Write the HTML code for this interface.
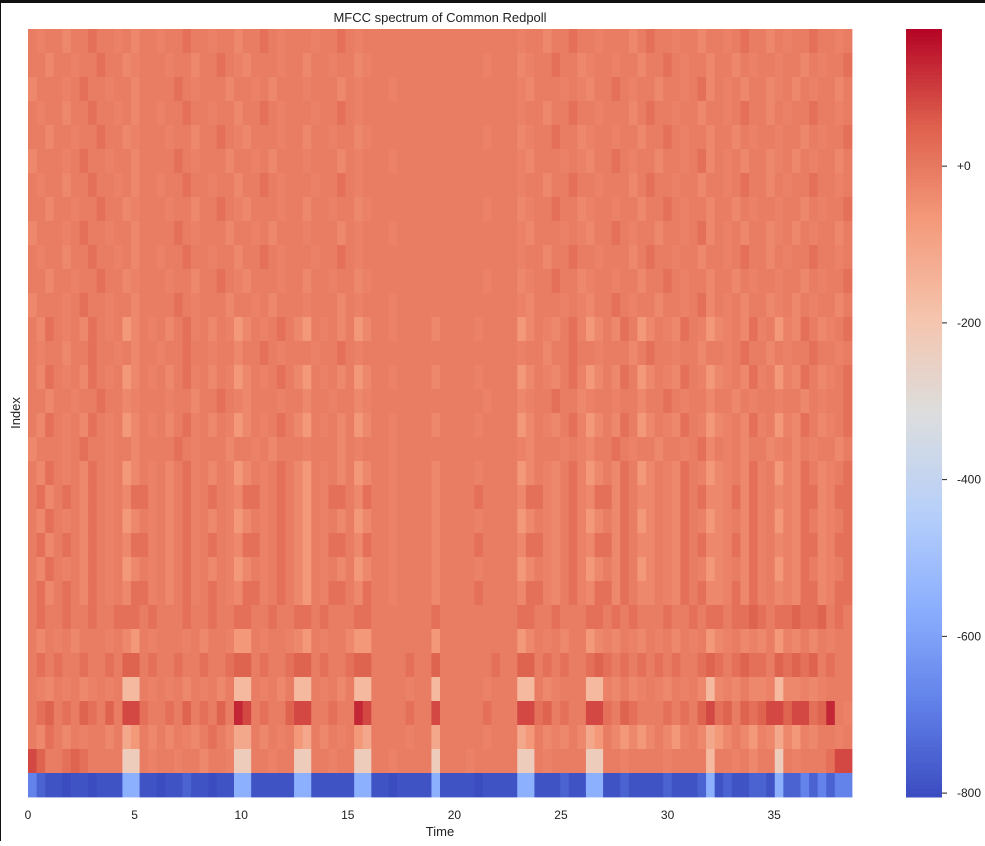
<!DOCTYPE html>
<html><head><meta charset="utf-8"><style>
html,body{margin:0;padding:0;background:#fff;}
body{width:985px;height:841px;overflow:hidden;position:relative;font-family:"Liberation Sans",sans-serif;}
svg text{font-family:"Liberation Sans",sans-serif;fill:#222;}
</style></head><body>
<svg id="chart" width="985" height="841" viewBox="0 0 985 841" xmlns="http://www.w3.org/2000/svg">
<rect x="0" y="0" width="985" height="3" fill="#111"/>
<rect x="0" y="0" width="1" height="841" fill="#111"/>
<text x="440" y="22" text-anchor="middle" font-size="13">MFCC spectrum of Common Redpoll</text>
<text x="20" y="413" text-anchor="middle" font-size="13" transform="rotate(-90 20 413)">Index</text>
<text x="440" y="836" text-anchor="middle" font-size="13">Time</text>
<g id="heat"></g>
<g id="xticks"></g>
<g id="cbar"></g>
</svg>
<script>
// ---- data ----
const levelKeys = ["A","B","C","D","E","f","g","h","i","j","k","m","n","o","p","q"];
const levelValues = [-805,-790,-755,-680,-560,-230,-160,-110,-65,-32,-18,-8,18,45,85,130];
const duration = 38.65;
const xTickValues = [0,5,10,15,20,25,30,35];
const cbarTickValues = [0,-200,-400,-600,-800];
const cbarTickLabels = ["+0","-200","-400","-600","-800"];
const vmin = -805, vmax = 175;
const TA = ["mkmmjmmn","mmkmjmmk","mmnmmkmm","jmmnmkmm","mkmmnmkm","mmmmmmmm","mmmmmmmm","mkmmjmmn","mmkmmmjm","nmmkmmjm","mkmnmmjm","kmmnmmkm"];
const TB = ["mmjmmkmm","nmmjkmmm","kmmjmmnm","kjmmmkmm","jmmkmmjk","mmmmmmmm","mmmmmkmm","mjkmmnmm","jkmmkmmj","mmnmkmmj","mmjmkmmk","mmjmkmmn"];
const TC = ["jmmmkmnm","mkmmjmmm","mnmkmmmj","mmkmjmmm","kmmmjmkm","mmkmmmmm","mmmmmmmm","mkjmmmkm","kjmmnmkm","mjmmkmnj","mkmjmmjk","mjmkmmjm"];
const TD = ["mjnmkmjn","mkmijmkm","jmnkmjmk","ijmkmnmj","imkmjmij","mmkmmmmj","mmmmkmmm","mijmkjmn","kijmjnmi","jmkjnmki","jkmjnkmi","kjnmjkmn"];
const TE = ["mnjmnmjn","mkmjnnkm","jmnkmnmk","jnnkmnmj","imknnmjn","mmkmmmmj","mmmmnmmm","mjnnkjmn","kjnnjnmj","jmkjnmnj","jknjnkmj","kjnnjknn"];
const R24 = ["mnmmnmmn","mmnnnmnm","mmnmmnmm","nnmmnmmn","nmnmmmnn","mmmmmmmn","mmmmmmmm","mnnmmnmm","mnnmnmnm","mmnmmnmn","nmnnonmn","nonnomnm"];
const R25 = ["mjmkmjmm","mkmjimkm","mmkmjmmk","iimkmmkj","imkmmjii","mmmmmmmi","mmmmmmmm","mijmkmjm","mijkjmkj","mkmjmkmi","jkmjkjmi","kjmjmkmm"];
const R26 = ["mnmnmmnm","mnmoomnm","mnmmnmmn","oomnmmno","omnmmnoo","mmmmnmmo","mmmmmmnm","moomnmnm","mnonmnmn","mnmnmmno","nmnonnmo","nonomnmm"];
const R27 = ["mkjmkmjk","mkmggmkm","kmjmkmjm","ggmkmjmg","gmkmjmgg","mmmmkmmg","mmmmmkmm","mggmjkmm","mggkjmjk","mkjmkmjg","jkjmjjkg","jjkjkmmm"];
const R28 = ["mnomnmon","momppnmm","nmomnmom","qpmnmmop","pmmnmmqp","mmmmnmmp","mmmmmnmm","mppnomnm","mppnmonm","mmnmnmop","nomonopp","oppnoqmk"];
const R29 = ["mjnmjmkm","mjmhimjm","jmkjmnmj","hhmjmkmi","hmjmkmih","mmmmkmmh","mmmmmkmm","mhimjkjm","jhimjiji","jmjikmjh","ijmjikjh","jikjmmkm"];
const R30 = ["pommnonm","mmmffmkm","mkmmjmmk","ffmmkmmf","fmmkmmff","mmkmmmmf","mmmkmmmm","mffmkmmm","mffmmkmm","mmkmmmmg","mmkmjmmf","mkmmmnpp"];
const R31 = ["DCBBABBA","BBBEEBBA","BBCBBABB","EEBBBBBE","EBBBBBEE","BBABBBBE","BBBBABBB","BEEBBBCB","BEEBBCBB","BBCBBBCE","BCBBCCBE","CCDCDCDD"];
const rows = [TA,TB,TC,TA,TB,TC,TA,TB,TC,TA,TB,TC,TD,TA,TD,TB,TD,TC,TD,TE,TD,TE,TD,TE,R24,R25,R26,R27,R28,R29,R30,R31];

// ---- layout ----
const PX0=28, PX1=852, PY0=29, PY1=797;
const CBX=906, CBW=36;
const xScale = t => PX0 + t/duration*(PX1-PX0);
const cbScale = v => PY0 + (vmax - v)/(vmax - vmin)*(PY1-PY0);
const stops=[[0,59,76,192],[0.125,98,130,234],[0.25,141,176,254],[0.375,184,208,249],[0.5,221,221,221],[0.625,245,196,173],[0.75,244,154,123],[0.875,222,96,77],[1,180,4,38]];
function cmap(v){
  let t=Math.max(0,Math.min(1,(v-vmin)/(vmax-vmin)));
  for(let i=1;i<stops.length;i++){
    if(t<=stops[i][0]){const a=stops[i-1],b=stops[i];const f=(t-a[0])/(b[0]-a[0]);
      return `rgb(${Math.round(a[1]+f*(b[1]-a[1]))},${Math.round(a[2]+f*(b[2]-a[2]))},${Math.round(a[3]+f*(b[3]-a[3]))})`;}
  }
  return "rgb(180,4,38)";
}
const NS="http://www.w3.org/2000/svg";
const heat=document.getElementById("heat");
const nRows=rows.length;
const rowH=(PY1-PY0)/nRows;
rows.forEach((chunks,r)=>{
  const s=chunks.join("");
  const n=s.length;
  const dt=duration/n;
  for(let c=0;c<n;c++){
    const v=levelValues[levelKeys.indexOf(s[c])];
    const x0=xScale(c*dt), x1=xScale((c+1)*dt);
    const rect=document.createElementNS(NS,"rect");
    rect.setAttribute("x",x0.toFixed(2));
    rect.setAttribute("y",(PY0+r*rowH).toFixed(2));
    rect.setAttribute("width",(x1-x0+0.4).toFixed(2));
    rect.setAttribute("height",(rowH+0.4).toFixed(2));
    rect.setAttribute("fill",cmap(v));
    
    
    heat.appendChild(rect);
  }
});
const xg=document.getElementById("xticks");
xTickValues.forEach(t=>{
  const tx=document.createElementNS(NS,"text");
  tx.setAttribute("x",xScale(t));
  tx.setAttribute("y",819);
  tx.setAttribute("text-anchor","middle");
  tx.setAttribute("font-size","12");
  tx.textContent=String(t);
  
  
  xg.appendChild(tx);
});
const cb=document.getElementById("cbar");
const steps=200;
for(let i=0;i<steps;i++){
  const v0=vmax-(vmax-vmin)*i/steps, v1=vmax-(vmax-vmin)*(i+1)/steps;
  const rect=document.createElementNS(NS,"rect");
  rect.setAttribute("x",CBX);
  rect.setAttribute("y",cbScale(v0).toFixed(2));
  rect.setAttribute("width",CBW);
  rect.setAttribute("height",(cbScale(v1)-cbScale(v0)+0.5).toFixed(2));
  rect.setAttribute("fill",cmap((v0+v1)/2));
  
  
  cb.appendChild(rect);
}
cbarTickValues.forEach((v,i)=>{
  const y=cbScale(v);
  const ln=document.createElementNS(NS,"line");
  ln.setAttribute("x1",CBX+CBW);ln.setAttribute("x2",CBX+CBW+5);
  ln.setAttribute("y1",y);ln.setAttribute("y2",y);
  ln.setAttribute("stroke","#222");ln.setAttribute("stroke-width","1");
  
  
  cb.appendChild(ln);
  const tx=document.createElementNS(NS,"text");
  tx.setAttribute("x",CBX+CBW+15);
  tx.setAttribute("y",y+4);
  tx.setAttribute("font-size","12");
  tx.textContent=cbarTickLabels[i];
  
  
  cb.appendChild(tx);
});
</script>
</body></html>
